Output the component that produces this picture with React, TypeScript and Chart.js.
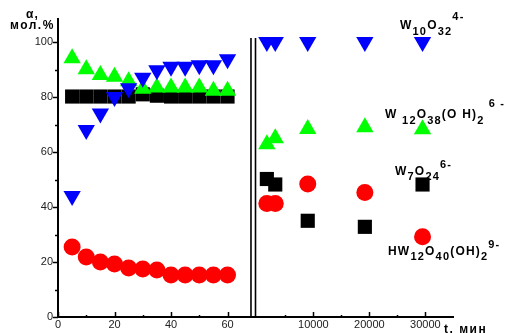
import React, { useEffect, useRef } from 'react';
import { Chart, registerables } from 'chart.js';

Chart.register(...registerables);

// ---- data ----
const shortTimes = [5, 10, 15, 20, 25, 30, 35, 40, 45, 50, 55, 60]; // minutes
const longTimes = [1700, 3200, 9000, 19200, 29500]; // minutes

const w10Short = [44, 68, 74, 80, 83.2, 87, 89.8, 91, 91, 91.6, 91.6, 93.8];
const w10Long = [100, 100, 100, 100, 100];
const w12Short = [94.1, 90.1, 88, 87.4, 85.8, 83, 83.5, 83.5, 83.5, 83.5, 82.3, 82.3];
const w12Long = [62.8, 65, 68.4, 69, 68.3];
const w7Short = [80.2, 80.2, 80.2, 80.2, 80.2, 81, 80.5, 80.2, 80.2, 80.2, 80.2, 80.2];
const w7Long = [50.2, 48.2, 35, 32.8, 48.2];
const hw12Short = [25.5, 21.8, 20, 19.3, 17.8, 17.5, 17.1, 15.3, 15.3, 15.3, 15.3, 15.3];
const hw12Long = [41.3, 41.3, 48.4, 45.3, 29.2];

const shortTickLabels = [0, 20, 40, 60];
const shortMinorTicks = [10, 30, 50];
const longTickLabels = [10000, 20000, 30000];
const longMinorTicks = [5000, 15000, 25000];
const yTickLabels = [0, 20, 40, 60, 80, 100];
const yMinorTicks = [10, 30, 50, 70, 90];

// ---- broken-axis mapping (virtual x units) ----
const LONG_ORIGIN = 70.55;
const LONG_UNIT = 19.82 / 10000;
const X_MAX = 139.8;
const Y_MAX = 108.4;
const BREAK_A = 68.3;
const BREAK_B = 69.9;
const BREAK_TOP = 101.5;
const longToX = (t: number) => LONG_ORIGIN + t * LONG_UNIT;

const build = (s: number[], l: number[]) =>
  shortTimes
    .map((t, i) => ({ x: t, y: s[i] }))
    .concat(longTimes.map((t, i) => ({ x: longToX(t), y: l[i] })));

const tickMap = new Map<number, string>();
shortTickLabels.forEach((v) => tickMap.set(v, String(v)));
longTickLabels.forEach((v) => tickMap.set(+longToX(v).toFixed(6), String(v)));

const FONT = '"Liberation Sans", Arial, sans-serif';

type Part = [string, number];
const formulas: { x: number; y: number; sub: number; sup: number; parts: Part[] }[] = [
  { x: 400, y: 29, sub: 6, sup: -9, parts: [['W', 0], ['10', 1], ['O', 0], ['32', 1], ['4-', -1]] },
  { x: 385, y: 118, sub: 6, sup: -11, parts: [['W ', 0], ['12', 1], ['O', 0], ['38', 1], ['(O H)', 0], ['2', 1], [' 6 -', -1]] },
  { x: 395, y: 175, sub: 5, sup: -7, parts: [['W', 0], ['7', 1], ['O', 0], ['24', 1], ['6-', -1]] },
  { x: 388, y: 255, sub: 5, sup: -7, parts: [['HW', 0], ['12', 1], ['O', 0], ['40', 1], ['(OH)', 0], ['2', 1], ['9-', -1]] },
];

const decorPlugin = {
  id: 'decor',
  afterDraw(chart: any) {
    const ctx = chart.ctx as CanvasRenderingContext2D;
    const xs = chart.scales.x;
    const ys = chart.scales.y;
    const area = chart.chartArea;
    ctx.save();
    ctx.strokeStyle = '#000';
    // y ticks (outward)
    ctx.lineWidth = 1.5;
    yTickLabels.forEach((v) => {
      const p = Math.round(ys.getPixelForValue(v)) + 0.5;
      ctx.beginPath();
      ctx.moveTo(area.left - 5, p);
      ctx.lineTo(area.left, p);
      ctx.stroke();
    });
    yMinorTicks.forEach((v) => {
      const p = Math.round(ys.getPixelForValue(v)) + 0.5;
      ctx.beginPath();
      ctx.moveTo(area.left - 3, p);
      ctx.lineTo(area.left, p);
      ctx.stroke();
    });
    // x ticks (inward)
    const majors = shortTickLabels.map((v) => v).concat(longTickLabels.map(longToX));
    const minors = shortMinorTicks.map((v) => v).concat(longMinorTicks.map(longToX));
    majors.forEach((v) => {
      const p = Math.round(xs.getPixelForValue(v)) + 0.5;
      ctx.beginPath();
      ctx.moveTo(p, area.bottom);
      ctx.lineTo(p, area.bottom - 5);
      ctx.stroke();
    });
    minors.forEach((v) => {
      const p = Math.round(xs.getPixelForValue(v)) + 0.5;
      ctx.beginPath();
      ctx.moveTo(p, area.bottom);
      ctx.lineTo(p, area.bottom - 2);
      ctx.stroke();
    });
    // axis break
    ctx.lineWidth = 1.6;
    [BREAK_A, BREAK_B].forEach((v) => {
      const p = xs.getPixelForValue(v);
      ctx.beginPath();
      ctx.moveTo(p, ys.getPixelForValue(BREAK_TOP));
      ctx.lineTo(p, area.bottom);
      ctx.stroke();
    });
    // texts
    ctx.fillStyle = '#000';
    ctx.textBaseline = 'alphabetic';
    ctx.textAlign = 'left';
    const anyCtx = ctx as any;
    anyCtx.letterSpacing = '1px';
    ctx.font = `bold 12px ${FONT}`;
    ctx.fillText('α,', 26, 18);
    anyCtx.letterSpacing = '1.5px';
    ctx.fillText('мол.%', 10, 29);
    anyCtx.letterSpacing = '1.5px';
    ctx.fillText('t, мин', 444, 333);
    formulas.forEach((f) => {
      let cx = f.x;
      f.parts.forEach(([txt, kind]) => {
        ctx.font = kind === 0 ? `bold 12px ${FONT}` : `bold 11px ${FONT}`;
        anyCtx.letterSpacing = '1.2px';
        const dy = kind === 1 ? f.sub : kind === -1 ? f.sup : 0;
        ctx.fillText(txt, cx, f.y + dy);
        cx += ctx.measureText(txt).width;
      });
    });
    anyCtx.letterSpacing = '0px';
    ctx.restore();
  },
};

export default function App() {
  const ref = useRef<HTMLCanvasElement | null>(null);
  useEffect(() => {
    if (!ref.current) return;
    const chart = new Chart(ref.current, {
      type: 'scatter',
      data: {
        datasets: [
          {
            label: 'W10O32',
            data: build(w10Short, w10Long),
            pointStyle: 'triangle',
            rotation: 180,
            pointRadius: 10,
            backgroundColor: '#0000ff',
            borderWidth: 0,
          },
          {
            label: 'W12O38(OH)2',
            data: build(w12Short, w12Long),
            pointStyle: 'triangle',
            pointRadius: 10,
            backgroundColor: '#00ff00',
            borderWidth: 0,
          },
          {
            label: 'W7O24',
            data: build(w7Short, w7Long),
            pointStyle: 'rect',
            pointRadius: 10,
            backgroundColor: '#000000',
            borderWidth: 0,
          },
          {
            label: 'HW12O40(OH)2',
            data: build(hw12Short, hw12Long),
            pointStyle: 'circle',
            pointRadius: 8.5,
            backgroundColor: '#ff0000',
            borderWidth: 0,
          },
        ],
      } as any,
      options: {
        animation: false,
        responsive: false,
        maintainAspectRatio: false,
        layout: { padding: { top: 19, right: 55, left: 0, bottom: 0 } },
        plugins: { legend: { display: false }, tooltip: { enabled: false } },
        scales: {
          x: {
            type: 'linear',
            min: 0,
            max: X_MAX,
            grid: { display: false, drawTicks: false },
            border: { display: true, color: '#000', width: 2 },
            afterBuildTicks: (s: any) => {
              s.ticks = Array.from(tickMap.keys()).map((v) => ({ value: v }));
            },
            afterFit: (s: any) => {
              s.height = 16;
            },
            ticks: {
              autoSkip: false,
              maxRotation: 0,
              padding: 1,
              color: '#222',
              font: { family: FONT, size: 11 },
              callback: (v: any) => tickMap.get(+Number(v).toFixed(6)) ?? '',
            },
          },
          y: {
            type: 'linear',
            min: 0,
            max: Y_MAX,
            grid: { display: false, drawTicks: false },
            border: { display: true, color: '#000', width: 2 },
            afterBuildTicks: (s: any) => {
              s.ticks = yTickLabels.map((v) => ({ value: v }));
            },
            afterFit: (s: any) => {
              s.width = 58;
            },
            ticks: {
              autoSkip: false,
              padding: 5,
              color: '#222',
              font: { family: FONT, size: 11 },
              callback: (v: any) => String(v),
            },
          },
        },
      } as any,
      plugins: [decorPlugin],
    });
    return () => chart.destroy();
  }, []);
  return (
    <div style={{ position: 'fixed', left: 0, top: 0, width: 508, height: 333, background: '#fff' }}>
      <canvas ref={ref} width={508} height={333} style={{ width: 508, height: 333, display: 'block' }} />
    </div>
  );
}
